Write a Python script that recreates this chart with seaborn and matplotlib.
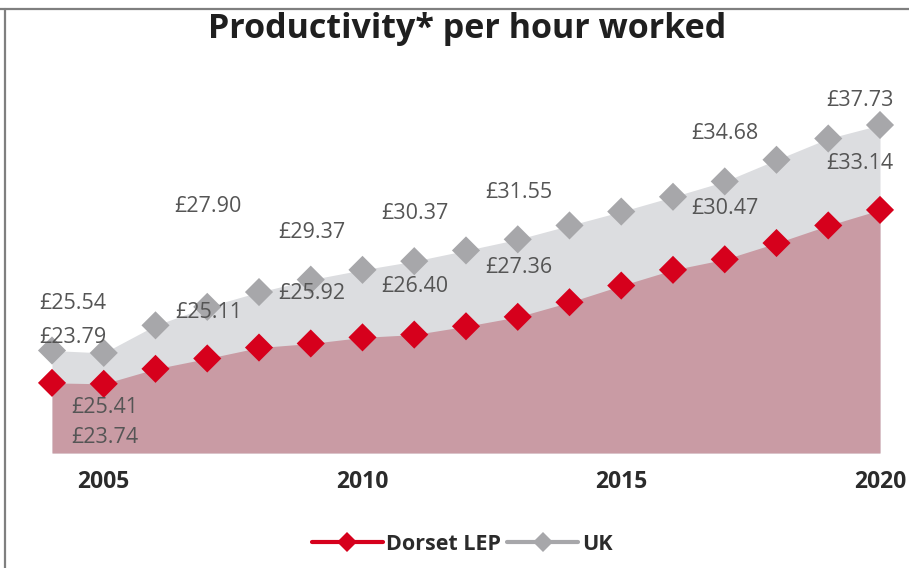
import matplotlib
matplotlib.use("Agg")
import matplotlib.pyplot as plt
from matplotlib.lines import Line2D
import numpy as np
import pandas as pd
import seaborn as sns

# Productivity (GVA per hour worked, £)
years = list(range(2004, 2021))
uk = [25.54, 25.41, 26.90, 27.90, 28.70, 29.37, 29.90, 30.37, 30.95,
      31.55, 32.30, 33.05, 33.85, 34.68, 35.85, 37.00, 37.73]
dorset = [23.79, 23.74, 24.55, 25.11, 25.70, 25.92, 26.25, 26.40, 26.85,
          27.36, 28.15, 29.05, 29.90, 30.47, 31.35, 32.30, 33.14]
labelled_years = [2004, 2005, 2007, 2009, 2011, 2013, 2017, 2020]
x_ticks = [2005, 2010, 2015, 2020]
series_names = ["Dorset LEP", "UK"]
title_text = "Productivity* per hour worked"

RED = "#d6001c"
GREY = "#a7a7aa"
GREY_FILL = "#dcdde0"
PINK_FILL = "#c99ba4"
TEXT = "#555555"

df = pd.DataFrame({"year": years, "UK": uk, "Dorset LEP": dorset})
long_df = df.melt(id_vars="year", var_name="area", value_name="gva")

sns.set_theme(style="white")
plt.rcParams["font.family"] = ["Open Sans", "DejaVu Sans"]

W, H = 909, 568
fig = plt.figure(figsize=(W / 100, H / 100), dpi=100)
# axes placed in pixel terms: left 30, right 900, top 60, bottom 453
ax = fig.add_axes([30 / W, (H - 453) / H, 870 / W, (453 - 60) / H])

px_per_year = 51.75
px_per_pound = 18.5
ax.set_xlim(2004 - 22 / px_per_year, 2020 + 20 / px_per_year)
ax.set_ylim(20, 20 + 393 / px_per_pound)

# stacked look: grey area under the UK series, pink area under Dorset LEP
ax.fill_between(df["year"], 20, df["UK"], color=GREY_FILL, lw=0, zorder=1)
ax.fill_between(df["year"], 20, df["Dorset LEP"], color=PINK_FILL, lw=0, zorder=2)

sns.scatterplot(data=long_df, x="year", y="gva", hue="area",
                hue_order=series_names, palette=[RED, GREY],
                marker="D", s=205, linewidth=0, legend=False,
                ax=ax, zorder=3)

# value labels: pixel offsets (dx, dy) for each labelled year
uk_offsets = {2004: (21, 47), 2005: (1, -55), 2007: (1, 100), 2009: (1, 47),
              2011: (1, 48), 2013: (1, 47), 2017: (0, 48), 2020: (-20, 24)}
dorset_offsets = {2004: (21, 45), 2005: (1, -54), 2007: (1, 46), 2009: (1, 50),
                  2011: (1, 48), 2013: (1, 49), 2017: (0, 51), 2020: (-20, 46)}
for yr in labelled_years:
    i = years.index(yr)
    for vals, offs in ((uk, uk_offsets), (dorset, dorset_offsets)):
        ax.annotate(f"£{vals[i]:.2f}", (yr, vals[i]), xytext=offs[yr],
                    textcoords="offset pixels", ha="center", va="center",
                    fontsize=15.5, color=TEXT, zorder=4)

ax.set_xticks(x_ticks)
ax.set_xticklabels([str(t) for t in x_ticks], fontsize=16.5,
                   fontweight="bold", color="#2b2b2b")
ax.tick_params(axis="x", length=0, pad=12)
ax.set_yticks([])
ax.set_xlabel("")
ax.set_ylabel("")
for sp in ax.spines.values():
    sp.set_visible(False)
ax.set_facecolor("none")

fig.text(467 / W, 1 - 29 / H, title_text, ha="center", va="center",
         fontsize=24.5, fontweight="bold", color="#1f1f1f")

handles = [
    Line2D([], [], color=RED, lw=3, marker="D", markersize=10,
           markeredgewidth=0),
    Line2D([], [], color=GREY, lw=3, marker="D", markersize=10,
           markeredgewidth=0),
]
leg = fig.legend(handles, series_names, loc="center",
                 bbox_to_anchor=(462 / W, 1 - 544 / H), ncol=2,
                 frameon=False, handlelength=3.3, handletextpad=0.15,
                 columnspacing=0.3,
                 prop={"size": 15.5, "weight": "bold"})
for t in leg.get_texts():
    t.set_color("#2b2b2b")

# thin grey frame along the top and left edges
fig.add_artist(Line2D([0, 1], [1 - 8.5 / H, 1 - 8.5 / H],
                      transform=fig.transFigure, color="#7f7f7f", lw=1.6))
fig.add_artist(Line2D([5 / W, 5 / W], [0, 1 - 8.5 / H],
                      transform=fig.transFigure, color="#7f7f7f", lw=1.6))

fig.savefig("out.png", dpi=100)
